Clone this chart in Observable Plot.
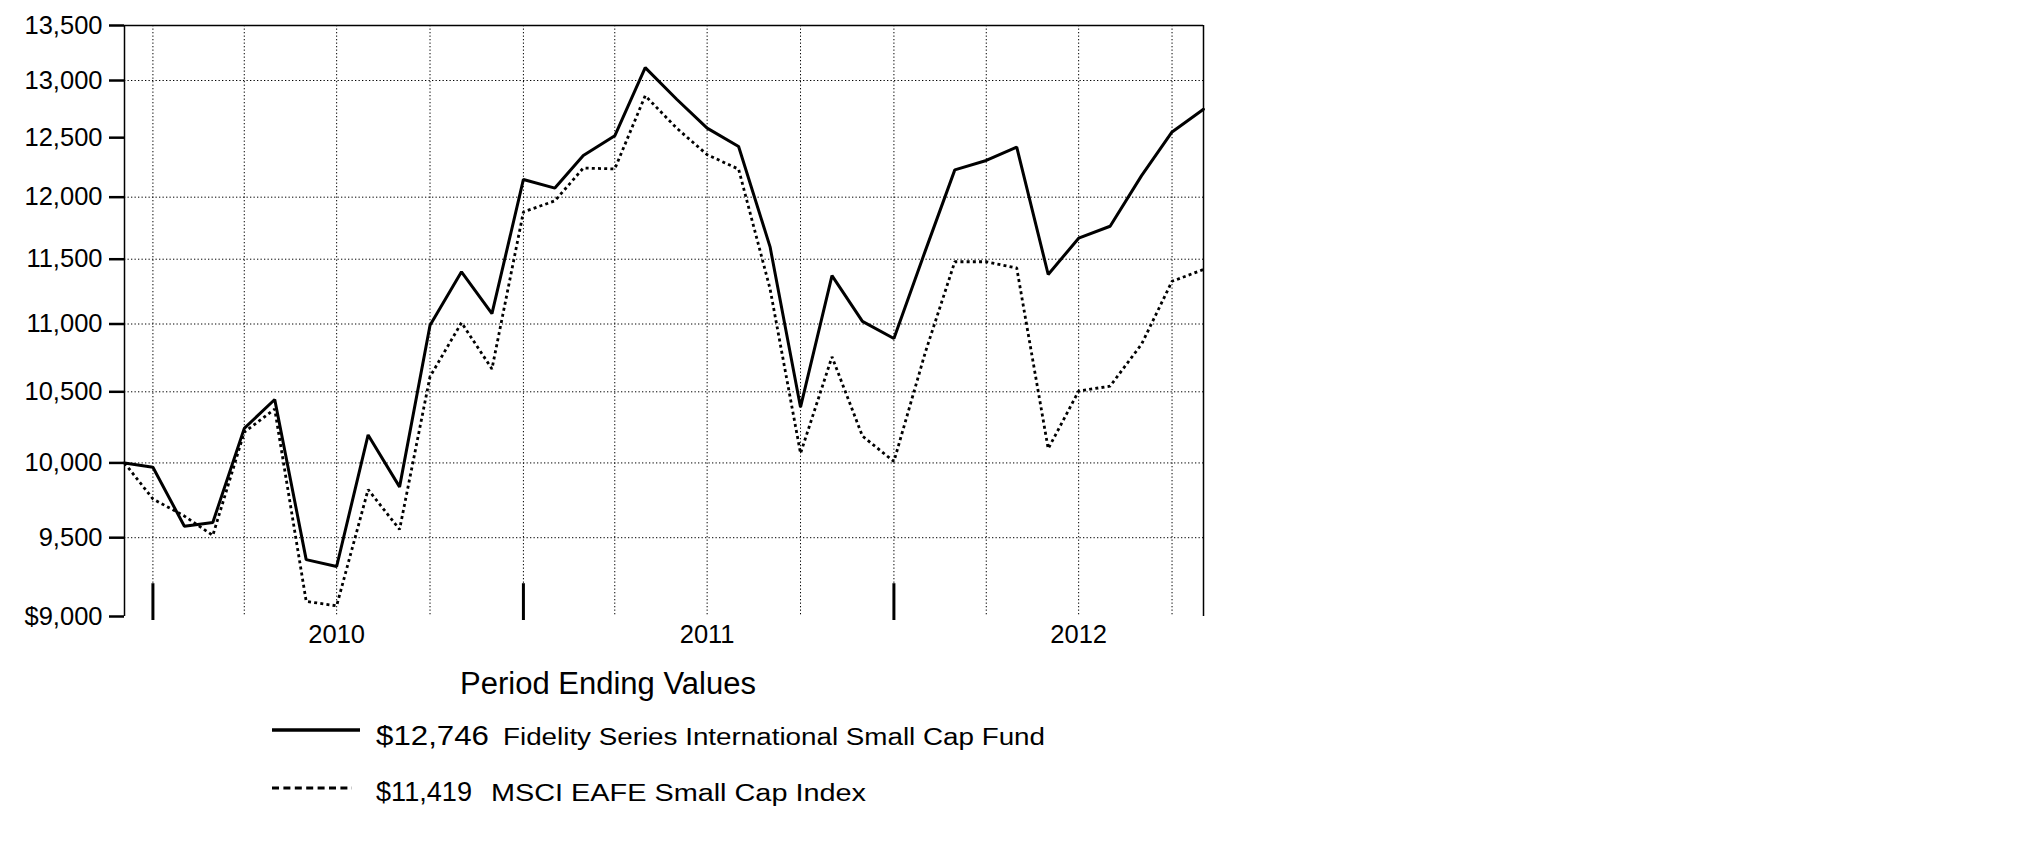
<!DOCTYPE html>
<html>
<head>
<meta charset="utf-8">
<script src="https://cdn.jsdelivr.net/npm/d3@7"></script>
<script src="https://cdn.jsdelivr.net/npm/@observablehq/plot@0.6"></script>
<style>
html, body { margin: 0; padding: 0; background: #fff; }
#wrap { position: relative; width: 2025px; height: 851px; overflow: hidden; background: #fff; }
#chart svg { display: block; }
#legend { position: absolute; left: 0; top: 0; pointer-events: none; }
</style>
</head>
<body>
<div id="wrap"><div id="chart"></div><svg id="legend" width="2025" height="851"></svg></div>
<script>
// ---- data ----
const dates = [
  "2009-12-03", "2009-12-31", "2010-01-31", "2010-02-28", "2010-03-31", "2010-04-30",
  "2010-05-31", "2010-06-30", "2010-07-31", "2010-08-31", "2010-09-30", "2010-10-31",
  "2010-11-30", "2010-12-31", "2011-01-31", "2011-02-28", "2011-03-31", "2011-04-30",
  "2011-05-31", "2011-06-30", "2011-07-31", "2011-08-31", "2011-09-30", "2011-10-31",
  "2011-11-30", "2011-12-31", "2012-01-31", "2012-02-29", "2012-03-31", "2012-04-30",
  "2012-05-31", "2012-06-30", "2012-07-31", "2012-08-31", "2012-09-30", "2012-10-31"
];
const fundValues = [
  10000, 9970, 9575, 9600, 10240, 10445, 9358, 9314, 10194, 9837, 10990, 11401,
  11078, 12147, 12075, 12348, 12516, 13115, 12834, 12582, 12425, 11598, 10390, 11371,
  11020, 10891, 11568, 12227, 12306, 12419, 11380, 11667, 11763, 12179, 12549, 12746
];
const indexValues = [
  10000, 9756, 9642, 9515, 10213, 10376, 9094, 9066, 9819, 9554, 10610, 11010,
  10666, 11879, 11970, 12242, 12235, 12865, 12582, 12355, 12233, 11268, 10066, 10755,
  10186, 10010, 10790, 11480, 11480, 11431, 10098, 10505, 10541, 10849, 11327, 11419
];
const seriesNames = ["Fidelity Series International Small Cap Fund", "MSCI EAFE Small Cap Index"];
const endingLabels = ["$12,746", "$11,419"];
const legendTitle = "Period Ending Values";

const yTicks = [9000, 9500, 10000, 10500, 11000, 11500, 12000, 12500, 13000, 13500];
const yTickLabels = ["$9,000", "9,500", "10,000", "10,500", "11,000", "11,500", "12,000", "12,500", "13,000", "13,500"];
const yGrid = [9500, 10000, 10500, 11000, 11500, 12000, 13000];
const quarterDates = [
  "2009-12-31", "2010-03-31", "2010-06-30", "2010-09-30", "2010-12-31", "2011-03-31",
  "2011-06-30", "2011-09-30", "2011-12-31", "2012-03-31", "2012-06-30", "2012-09-30"
];
const yearTickDates = ["2009-12-31", "2010-12-31", "2011-12-31"];
const yearLabelDates = ["2010-06-30", "2011-06-30", "2012-06-30"];
const yearLabels = ["2010", "2011", "2012"];

// ---- chart ----
const FF = '"Liberation Sans", Arial, Helvetica, sans-serif';
const parse = s => new Date(s + "T00:00:00Z");
const rows = dates.map((d, i) => ({date: parse(d), fund: fundValues[i], index: indexValues[i]}));
const xStart = rows[0].date, xEnd = rows[rows.length - 1].date;
const labelDates = yearLabelDates.map(parse);
const dotted = "1.3,2.2";

const chart = Plot.plot({
  width: 1240,
  height: 660,
  marginLeft: 124,
  marginRight: 37,
  marginTop: 25,
  marginBottom: 44,
  style: {fontFamily: FF, color: "#000", background: "#fff", overflow: "visible"},
  x: {type: "utc", domain: [xStart, xEnd], label: null},
  y: {type: "log", domain: [yTicks[0], yTicks[yTicks.length - 1]], label: null},
  marks: [
    Plot.ruleY(yGrid, {stroke: "#000", strokeWidth: 1, strokeDasharray: dotted}),
    Plot.ruleX(quarterDates.map(parse), {stroke: "#000", strokeWidth: 1, strokeDasharray: dotted}),
    Plot.ruleY([yTicks[yTicks.length - 1]], {stroke: "#000", strokeWidth: 1.5}),
    Plot.ruleX([xStart, xEnd], {stroke: "#000", strokeWidth: 1.5}),
    Plot.ruleX(yearTickDates.map(parse), {y1: yTicks[0], y2: 9230, dy: 4, stroke: "#000", strokeWidth: 3}),
    Plot.line(rows, {x: "date", y: "index", stroke: "#000", strokeWidth: 2.8, strokeDasharray: "3,3.2", strokeLinecap: "butt", strokeLinejoin: "miter"}),
    Plot.line(rows, {x: "date", y: "fund", stroke: "#000", strokeWidth: 3, strokeLinejoin: "miter"}),
    Plot.axisY(yTicks, {
      label: null, tickSize: 15, tickPadding: 7, fontSize: 25.5, strokeWidth: 2.5,
      tickFormat: d => yTickLabels[yTicks.indexOf(d)]
    }),
    Plot.axisX(labelDates, {
      label: null, tickSize: 0, tickPadding: 8, fontSize: 25.5,
      tickFormat: d => yearLabels[labelDates.findIndex(t => +t === +d)]
    })
  ]
});
document.getElementById("chart").appendChild(chart);

// ---- legend ----
const lg = d3.select("#legend").attr("font-family", FF);
lg.append("text")
  .attr("x", 608).attr("y", 694)
  .attr("text-anchor", "middle")
  .attr("font-size", 31)
  .attr("fill", "#000")
  .text(legendTitle);

const legendRows = [
  {y: 730, base: 745, dash: null, sw: 3.5, x2: 360, valueW: 113, labelX: 503, labelW: 542},
  {y: 788, base: 801, dash: "7,4.4", sw: 3, x2: 352, valueW: 96, labelX: 491, labelW: 375}
];
legendRows.forEach((r, i) => {
  const ln = lg.append("line")
    .attr("x1", 272).attr("x2", r.x2)
    .attr("y1", r.y).attr("y2", r.y)
    .attr("stroke", "#000").attr("stroke-width", r.sw);
  if (r.dash) ln.attr("stroke-dasharray", r.dash);
  lg.append("text")
    .attr("x", 376).attr("y", r.base)
    .attr("font-size", 27.5)
    .attr("textLength", r.valueW).attr("lengthAdjust", "spacingAndGlyphs")
    .attr("fill", "#000")
    .text(endingLabels[i]);
  lg.append("text")
    .attr("x", r.labelX).attr("y", r.base)
    .attr("font-size", 23.5)
    .attr("textLength", r.labelW).attr("lengthAdjust", "spacingAndGlyphs")
    .attr("fill", "#000")
    .text(seriesNames[i]);
});
</script>
</body>
</html>
